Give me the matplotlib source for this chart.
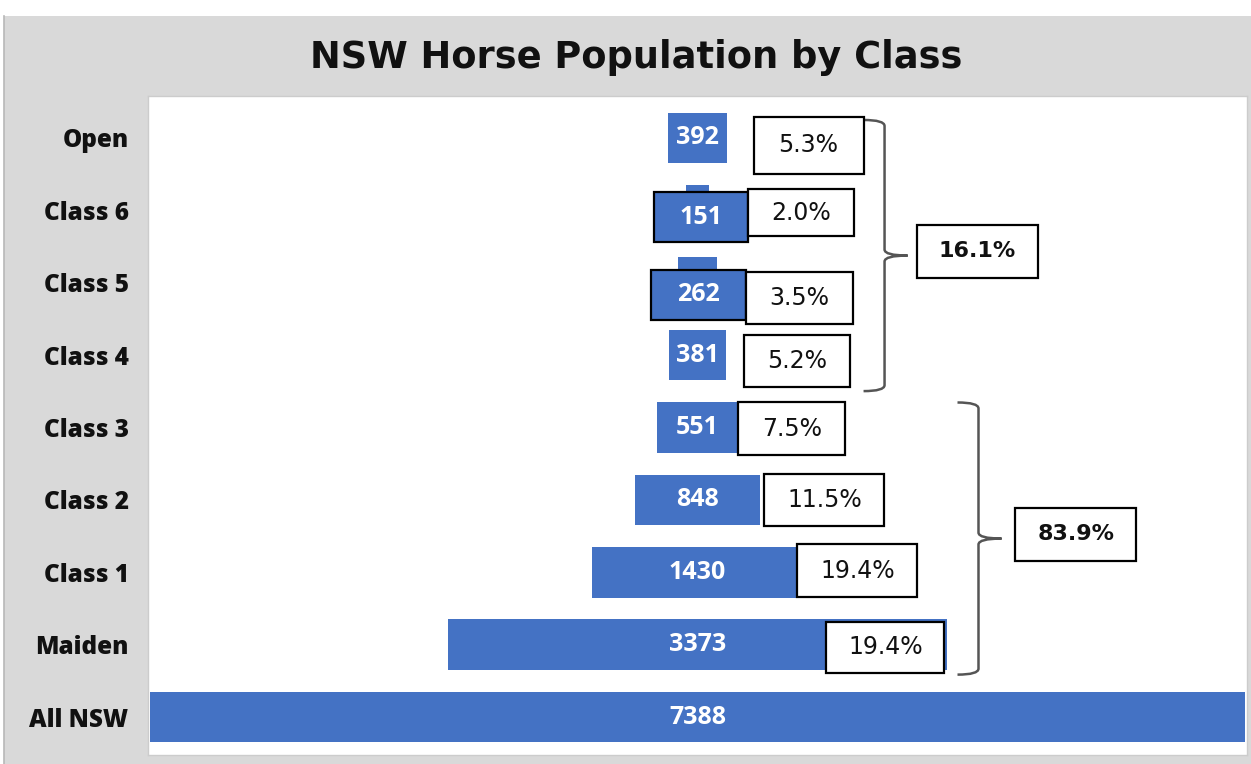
import matplotlib.pyplot as plt
from matplotlib.patches import Rectangle, PathPatch
from matplotlib.path import Path

# data
classes = ['Open', 'Class 6', 'Class 5', 'Class 4', 'Class 3', 'Class 2',
           'Class 1', 'Maiden', 'All NSW']
horses = [392, 151, 262, 381, 551, 848, 1430, 3373, 7388]
share_labels = ['5.3%', '2.0%', '3.5%', '5.2%', '7.5%', '11.5%', '19.4%', '19.4%']
group_labels = ['16.1%', '83.9%']
group_rows = [(0, 3), (4, 7)]

BLUE = '#4472c4'
W, H = 1251, 764

# hand placed label boxes (pixels): gap from bar end, vertical shift, width, height
box_gap = [27, 40, 30, 18, 0, 4, -6, -121]
box_dy = [7.5, 2.5, 15, 6, 1.5, 0, -1.5, 2.5]
box_w = [110, 106, 107, 106, 107, 120, 120, 118]
box_h = [57, 47, 52, 52, 53, 52, 53, 51]
# the two rows whose value label sits in an outlined box (row: dx, dy, w, h)
value_boxes = {1: (3.5, 7, 94, 50), 2: (1, 12, 95, 50)}

fig = plt.figure(figsize=(W / 100, H / 100), dpi=100)
fig.patch.set_facecolor('white')
fig.patches.append(Rectangle((3.5 / W, 0), 1, (H - 16) / H, transform=fig.transFigure,
                             facecolor='#d9d9d9', edgecolor='none', zorder=-10))
fig.add_artist(plt.Line2D([3.5 / W, 3.5 / W], [0, (H - 16) / H], color='#b8b8b8',
                          lw=1.2, zorder=-9))

ax = fig.add_axes([148 / W, 9 / H, 1099 / W, 659 / H])
ax.set_zorder(2)
ax.set_facecolor('white')
for s in ax.spines.values():
    s.set_color('#cccccc')
    s.set_linewidth(1)

xr = 7414
ax.set_xlim(-xr / 2, xr / 2)
ax.set_ylim(8.525, -0.58)
sx = xr / 1099.0
sy = 9.105 / 659.0

ypos = list(range(len(classes)))
ax.barh(ypos, horses, left=[-v / 2 for v in horses], height=0.7, color=BLUE, zorder=2)

vfont = dict(family='Open Sans', weight='bold', color='white', fontsize=18)
for i, v in enumerate(horses):
    if i in value_boxes:
        dx, dy, w, h = value_boxes[i]
        cx, cy = dx * sx, i + dy * sy
        ax.add_patch(Rectangle((cx - w * sx / 2, cy - h * sy / 2), w * sx, h * sy,
                               facecolor=BLUE, edgecolor='black', lw=1.6, zorder=4))
        ax.text(cx, cy, str(v), ha='center', va='center', zorder=5, **vfont)
    else:
        ax.text(0, i, str(v), ha='center', va='center', zorder=5, **vfont)

# percentage boxes
rights = []
for i, lab in enumerate(share_labels):
    x0 = horses[i] / 2 + box_gap[i] * sx
    if i in value_boxes:
        dx, dy, w, h = value_boxes[i]
        x0 = dx * sx + w * sx / 2
    cy = i + box_dy[i] * sy
    w, h = box_w[i] * sx, box_h[i] * sy
    ax.add_patch(Rectangle((x0, cy - h / 2), w, h, facecolor='white',
                           edgecolor='black', lw=1.6, zorder=6))
    ax.text(x0 + w / 2, cy, lab, ha='center', va='center', fontsize=17,
            family='DejaVu Sans', color='#111111', zorder=7)
    rights.append(x0 + w)

# braces with group totals
brace_gap = [21, 34]
brace_pad = [(-18, 36), (-25, 30)]
for g, (r0, r1) in enumerate(group_rows):
    x = max(rights[r0:r1 + 1]) + brace_gap[g] * sx
    top = r0 + brace_pad[g][0] * sy
    bot = r1 + brace_pad[g][1] * sy
    mid = (top + bot) / 2
    hook, tip, r = 21 * sx, 23 * sx, 6 * sy
    verts = [(x - hook, top), (x, top), (x, top + r),
             (x, mid - r), (x, mid), (x + tip, mid),
             (x, mid), (x, mid + r),
             (x, bot - r), (x, bot), (x - hook, bot)]
    codes = [Path.MOVETO, Path.CURVE3, Path.CURVE3,
             Path.LINETO, Path.CURVE3, Path.CURVE3,
             Path.CURVE3, Path.CURVE3,
             Path.LINETO, Path.CURVE3, Path.CURVE3]
    ax.add_patch(PathPatch(Path(verts, codes), facecolor='none', edgecolor='#555555',
                           lw=1.8, zorder=3, clip_on=False))
    bx = x + tip + (9 if g == 0 else 14) * sx
    bw, bh = 121 * sx, 53 * sy
    by = mid - 4.5 * sy
    ax.add_patch(Rectangle((bx, by - bh / 2), bw, bh, facecolor='white',
                           edgecolor='black', lw=1.6, zorder=6))
    ax.text(bx + bw / 2, by, group_labels[g], ha='center', va='center', fontsize=16,
            family='DejaVu Sans', weight='bold', color='#111111', zorder=7)

ax.set_xticks([])
ax.set_yticks(ypos)
ax.set_yticklabels(classes, family='Open Sans', weight='heavy', fontsize=17.5, color='#111111')
ax.tick_params(axis='y', length=0, pad=14)

fig.text(636 / W, (H - 57) / H, 'NSW Horse Population by Class', ha='center', va='center',
         fontsize=26.5, weight='bold', family='DejaVu Sans', color='#111111')

fig.savefig('out.png', dpi=100, facecolor=fig.get_facecolor())
